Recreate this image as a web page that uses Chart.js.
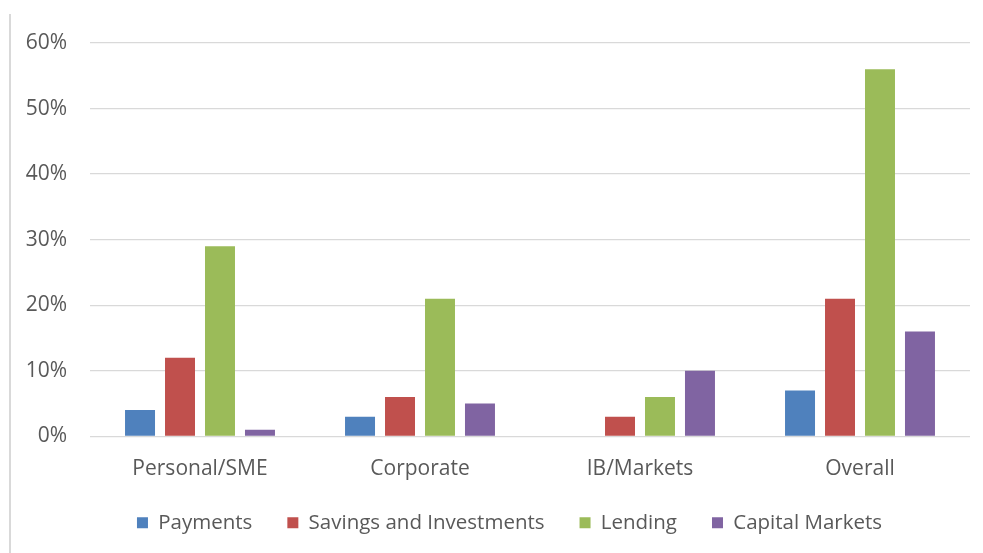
<!DOCTYPE html>
<html>
<head>
<meta charset="utf-8">
<script src="https://cdn.jsdelivr.net/npm/chart.js@4.4.1/dist/chart.umd.min.js"></script>
<style>
  html, body { margin: 0; padding: 0; background: #fff; }
  #wrap { width: 983px; height: 553px; position: relative; }
</style>
</head>
<body>
<div id="wrap"><canvas id="myChart"></canvas></div>
<script>
const segments = ["Personal/SME", "Corporate", "IB/Markets", "Overall"]
const payments = [4, 3, 0, 7]
const savings = [12, 6, 3, 21]
const lending = [29, 21, 6, 56]
const capitalMarkets = [1, 5, 10, 16]
const yTicks = [0, 10, 20, 30, 40, 50, 60]

// thin grey frame line on the left, like the pasted office chart
const leftRule = {
    id: 'leftRule',
    beforeDraw(chart) {
        const c = chart.ctx
        c.save()
        c.fillStyle = '#d9d9d9'
        c.fillRect(9, 14, 2, chart.height - 14)
        c.restore()
    }
}

// nudge the legend box: a bit up and centred under the plot like the original
const legendNudge = {
    id: 'legendNudge',
    afterLayout(chart) {
        const lg = chart.legend
        lg.top -= 24
        lg.bottom -= 24
        lg.left = 49
    }
}

var ctxB = document.getElementById("myChart").getContext('2d');
var myBarChart = new Chart(ctxB, {
    type: 'bar',
    data: {
        labels: segments,
        datasets: [
            { label: "Payments", data: payments, backgroundColor: '#4f81bd' },
            { label: "Savings and Investments", data: savings, backgroundColor: '#c0504d' },
            { label: "Lending", data: lending, backgroundColor: '#9bbb59' },
            { label: "Capital Markets", data: capitalMarkets, backgroundColor: '#8064a2' }
        ]
    },
    options: {
        responsive: true,
        maintainAspectRatio: false,
        animation: false,
        categoryPercentage: 0.727,
        barPercentage: 0.75,
        layout: {
            padding: { left: 24, right: 13, top: 43, bottom: -14 }
        },
        scales: {
            x: {
                grid: { display: false, drawTicks: false },
                border: { display: false },
                ticks: {
                    padding: 20,
                    color: '#595959',
                    font: { family: 'Open Sans', size: 21 }
                }
            },
            y: {
                min: 0,
                max: 60,
                afterFit: function (s) { s.width = 66 },
                afterBuildTicks: function (s) {
                    s.ticks = yTicks.map(function (v) { return { value: v } })
                },
                grid: { color: '#d9d9d9', lineWidth: 1.3, drawTicks: false },
                border: { display: false },
                ticks: {
                    padding: 23,
                    color: '#595959',
                    font: { family: 'Open Sans', size: 21 },
                    callback: function (v) { return v + '%' }
                }
            }
        },
        plugins: {
            legend: {
                position: 'bottom',
                labels: {
                    boxWidth: 11,
                    boxHeight: 11,
                    padding: 35,
                    color: '#595959',
                    font: { family: 'Open Sans', size: 20.5 }
                }
            },
            tooltip: { enabled: false }
        }
    },
    plugins: [leftRule, legendNudge]
});
</script>
</body>
</html>
